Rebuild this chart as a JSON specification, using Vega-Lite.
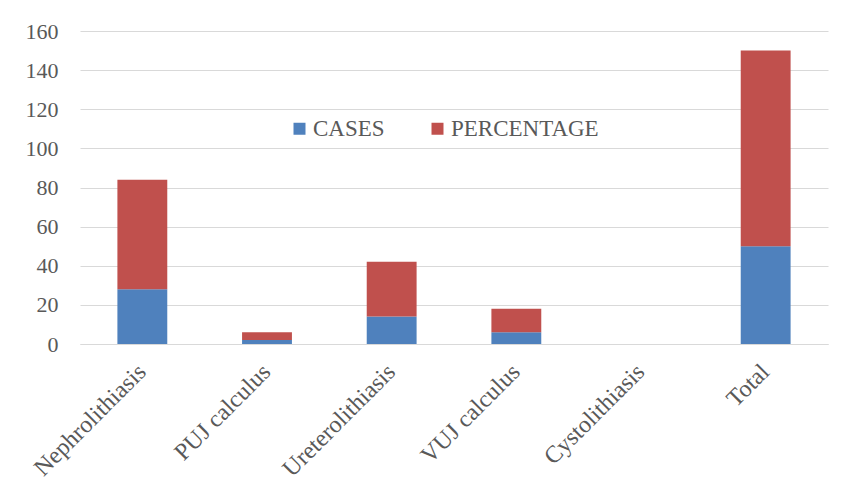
{
  "$schema": "https://vega.github.io/schema/vega-lite/v6.json",
  "width": 748,
  "height": 313,
  "autosize": "none",
  "padding": {"left": 80, "top": 31, "right": 17, "bottom": 150},
  "background": "white",
  "data": {
    "values": [
      {"type": "Nephrolithiasis", "series": "CASES", "value": 28, "o": 1},
      {"type": "Nephrolithiasis", "series": "PERCENTAGE", "value": 56, "o": 2},
      {"type": "PUJ calculus", "series": "CASES", "value": 2, "o": 1},
      {"type": "PUJ calculus", "series": "PERCENTAGE", "value": 4, "o": 2},
      {"type": "Ureterolithiasis", "series": "CASES", "value": 14, "o": 1},
      {"type": "Ureterolithiasis", "series": "PERCENTAGE", "value": 28, "o": 2},
      {"type": "VUJ calculus", "series": "CASES", "value": 6, "o": 1},
      {"type": "VUJ calculus", "series": "PERCENTAGE", "value": 12, "o": 2},
      {"type": "Cystolithiasis", "series": "CASES", "value": 0, "o": 1},
      {"type": "Cystolithiasis", "series": "PERCENTAGE", "value": 0, "o": 2},
      {"type": "Total", "series": "CASES", "value": 50, "o": 1},
      {"type": "Total", "series": "PERCENTAGE", "value": 100, "o": 2}
    ]
  },
  "mark": {"type": "bar"},
  "encoding": {
    "x": {
      "field": "type",
      "type": "nominal",
      "sort": null,
      "title": null,
      "scale": {"paddingInner": 0.6, "paddingOuter": 0.3},
      "axis": {
        "labelAngle": -45,
        "labelFont": "Liberation Serif",
        "labelFontSize": 24,
        "labelColor": "#595959",
        "ticks": false,
        "domainColor": "#d9d9d9",
        "domainWidth": 1,
        "labelPadding": 24,
        "labelAlign": "right",
        "labelBaseline": "middle"
      }
    },
    "y": {
      "field": "value",
      "type": "quantitative",
      "stack": "zero",
      "title": null,
      "scale": {"domain": [0, 160], "nice": false},
      "axis": {
        "values": [0, 20, 40, 60, 80, 100, 120, 140, 160],
        "labelFont": "Liberation Serif",
        "labelFontSize": 22,
        "labelColor": "#595959",
        "ticks": false,
        "domain": false,
        "gridColor": "#d9d9d9",
        "gridWidth": 1,
        "labelPadding": 22
      }
    },
    "color": {
      "field": "series",
      "type": "nominal",
      "scale": {"domain": ["CASES", "PERCENTAGE"], "range": ["#4f81bd", "#c0504d"]},
      "legend": {
        "title": null,
        "orient": "none",
        "legendX": 208,
        "legendY": 86,
        "direction": "horizontal",
        "symbolType": "square",
        "symbolSize": 144,
        "symbolStrokeWidth": 0,
        "labelFont": "Liberation Serif",
        "labelFontSize": 23,
        "labelColor": "#595959",
        "labelOffset": 2,
        "columnPadding": 41
      }
    },
    "order": {"field": "o", "type": "quantitative"}
  },
  "config": {"view": {"stroke": null}}
}
